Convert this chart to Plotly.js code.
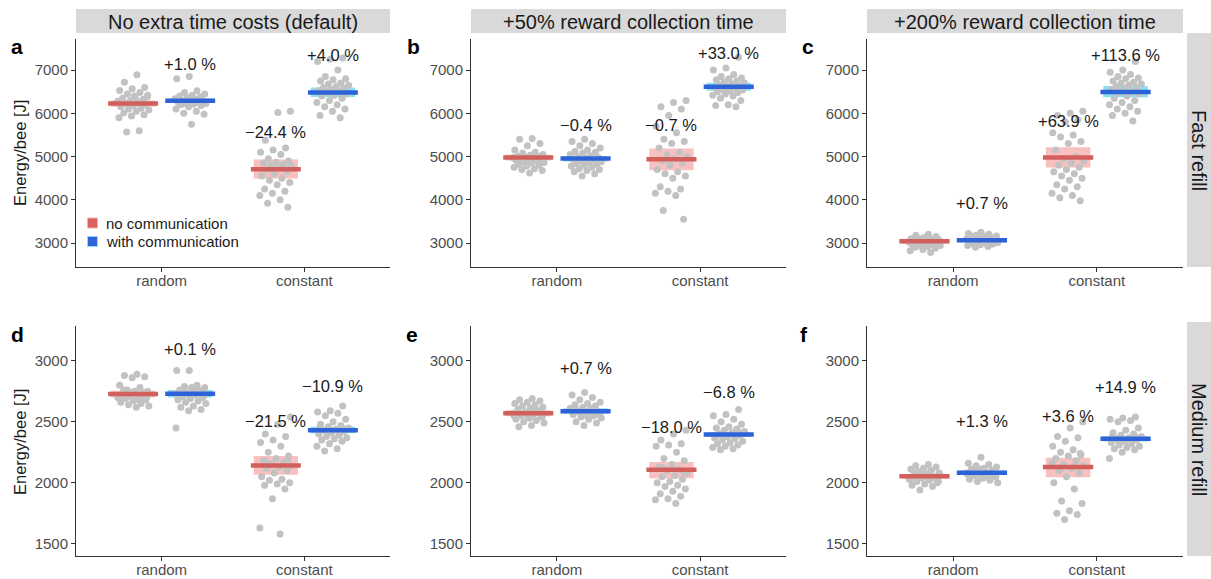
<!DOCTYPE html>
<html><head><meta charset="utf-8">
<script src="https://cdn.plot.ly/plotly-3.0.1.min.js"></script>
<style>html,body{margin:0;padding:0;background:#fff}#chart{width:1211px;height:579px}</style>
</head><body><div id="chart"></div>
<script>
// ---------------- data ----------------
const categories = ['random', 'constant'];
const groupNames = ['no communication', 'with communication'];
const columnTitles = ['No extra time costs (default)', '+50% reward collection time', '+200% reward collection time'];
const rowTitles = ['Fast refill', 'Medium refill'];
const panelLetters = ['a', 'b', 'c', 'd', 'e', 'f'];
const yTickVals = [[3000, 4000, 5000, 6000, 7000], [1500, 2000, 2500, 3000]];

// individual runs (Energy/bee [J])
const a_random_no = [6890,6720,6600,6570,6530,6480,6450,6420,6380,6350,6320,6300,6280,6260,6230,6200,6180,6150,6120,6100,6080,6050,6010,5970,5940,5900,5600,5570,6380,6400];
const a_random_with = [6850,6800,6520,6480,6450,6420,6400,6380,6360,6340,6320,6300,6290,6280,6260,6250,6240,6230,6210,6200,6180,6150,6100,6050,6000,5980,5750,6330,6270,6220];
const a_constant_no = [6050,6020,5380,5200,5150,5100,5050,4950,4900,4870,4850,4820,4800,4780,4750,4700,4650,4600,4550,4500,4450,4400,4350,4250,4200,4150,4100,4000,3920,3830];
const a_constant_with = [7280,7250,7200,7000,6850,6800,6780,6750,6700,6680,6650,6620,6600,6580,6550,6520,6500,6480,6450,6420,6400,6350,6300,6250,6200,6150,6100,6050,5950,5900];

const b_random_no = [5420,5400,5300,5250,5150,5100,5080,5050,5030,5010,5000,4990,4980,4970,4960,4950,4930,4920,4900,4880,4860,4850,4820,4800,4780,4750,4720,4700,4680,4620];
const b_random_with = [5400,5350,5300,5250,5200,5150,5120,5100,5080,5050,5020,5000,4980,4960,4940,4920,4900,4880,4860,4840,4820,4800,4780,4750,4720,4700,4680,4650,4600,4550];
const b_constant_no = [6300,6250,6150,6100,5950,5700,5550,5400,5350,5300,5200,5100,5050,5000,4950,4900,4850,4800,4700,4650,4600,4550,4500,4300,4250,4200,4150,4100,3750,3550];
const b_constant_with = [7300,7050,7000,6900,6850,6820,6800,6780,6750,6720,6700,6680,6660,6640,6620,6600,6580,6560,6540,6520,6500,6480,6450,6420,6400,6350,6300,6200,6180,6150];

const c_random_no = [3200,3180,3150,3120,3100,3090,3080,3070,3060,3050,3040,3030,3020,3010,3000,2990,2980,2970,2960,2950,2940,2920,2900,2880,2850,2820,2780,3110,3060,3130];
const c_random_with = [3250,3220,3200,3180,3160,3150,3140,3120,3100,3090,3080,3070,3060,3050,3040,3030,3020,3010,3000,2990,2980,2960,2940,2920,2900,3110,3130,3170,3050,3070];
const c_constant_no = [6050,6000,5950,5850,5800,5550,5500,5450,5350,5300,5150,5000,4950,4900,4850,4800,4750,4700,4650,4600,4550,4500,4450,4350,4300,4250,4150,4100,4050,3980];
const c_constant_with = [7200,7000,6950,6900,6850,6820,6800,6750,6720,6700,6680,6650,6620,6600,6580,6550,6500,6480,6450,6400,6350,6300,6250,6200,6150,6100,6050,6000,5950,5820];

const d_random_no = [2890,2880,2870,2860,2800,2780,2760,2750,2740,2730,2720,2710,2700,2700,2690,2680,2670,2660,2650,2640,2630,2620,2760,2740,2720,2700,2680,2730,2710,2750];
const d_random_with = [2920,2920,2800,2790,2780,2770,2760,2750,2740,2730,2720,2710,2700,2690,2680,2670,2660,2650,2630,2620,2600,2590,2450,2750,2740,2720,2780,2700,2760,2730];
const d_constant_no = [2540,2480,2400,2380,2350,2330,2300,2250,2220,2200,2180,2170,2150,2140,2130,2120,2100,2080,2050,2030,2020,2000,1990,1980,1950,1870,1630,1580,2160,2190];
const d_constant_with = [2630,2590,2580,2570,2550,2520,2500,2480,2470,2460,2450,2440,2430,2420,2410,2400,2390,2380,2370,2360,2350,2340,2320,2300,2280,2260,2440,2420,2450,2410];

const e_random_no = [2690,2680,2670,2660,2650,2640,2630,2620,2610,2600,2590,2580,2570,2560,2550,2540,2530,2520,2510,2500,2490,2470,2460,2580,2560,2550,2600,2570,2540,2530];
const e_random_with = [2740,2720,2700,2680,2660,2650,2640,2630,2620,2610,2600,2590,2580,2570,2560,2550,2540,2530,2520,2500,2490,2470,2600,2610,2580,2560,2550,2620,2590,2570];
const e_constant_no = [2430,2400,2350,2320,2310,2300,2250,2200,2180,2150,2130,2110,2100,2080,2060,2050,2030,2010,2000,1980,1970,1950,1930,1910,1890,1870,1860,1830,2120,2090];
const e_constant_with = [2600,2560,2550,2520,2500,2480,2460,2450,2440,2430,2420,2410,2400,2390,2380,2370,2360,2350,2340,2330,2320,2310,2300,2290,2280,2270,2410,2390,2380,2420];

const f_random_no = [2150,2140,2130,2120,2110,2100,2090,2080,2070,2060,2050,2040,2030,2020,2010,2000,1990,1980,1970,1940,2060,2050,2080,2040,2070,2030,2100,2060,2010,2050];
const f_random_with = [2210,2160,2150,2140,2130,2120,2110,2100,2090,2080,2070,2060,2050,2040,2030,2020,2010,2000,2090,2080,2100,2110,2070,2060,2120,2050,2040,2090,2080,2070];
const f_constant_no = [2500,2450,2380,2370,2340,2300,2270,2250,2230,2220,2200,2180,2150,2140,2120,2100,2080,2050,2000,1950,1850,1830,1770,1750,1740,1700,2160,2130,2110,2240];
const f_constant_with = [2540,2530,2520,2510,2500,2450,2430,2410,2400,2390,2380,2370,2360,2350,2340,2330,2320,2310,2300,2290,2280,2270,2250,2200,2360,2350,2370,2340,2380,2360];

// group order: [random-no, random-with, constant-no, constant-with]
const a_mean = [6228, 6290, 4707, 6483];
const a_ciLow = [6150, 6245, 4490, 6380];
const a_ciHigh = [6300, 6345, 4930, 6600];
const a_labels = ['', '+1.0 %', '\u221224.4 %', '+4.0 %'];

const b_mean = [4977, 4955, 4940, 6615];
const b_ciLow = [4910, 4885, 4683, 6525];
const b_ciHigh = [5040, 5010, 5185, 6710];
const b_labels = ['', '\u22120.4 %', '\u22120.7 %', '+33.0 %'];

const c_mean = [3040, 3062, 4978, 6495];
const c_ciLow = [2990, 3015, 4745, 6370];
const c_ciHigh = [3090, 3110, 5215, 6630];
const c_labels = ['', '+0.7 %', '+63.9 %', '+113.6 %'];

const d_mean = [2727, 2730, 2141, 2430];
const d_ciLow = [2700, 2700, 2065, 2405];
const d_ciHigh = [2755, 2760, 2220, 2460];
const d_labels = ['', '+0.1 %', '\u221221.5 %', '\u221210.9 %'];

const e_mean = [2569, 2587, 2106, 2395];
const e_ciLow = [2545, 2565, 2037, 2375];
const e_ciHigh = [2595, 2610, 2170, 2415];
const e_labels = ['', '+0.7 %', '\u221218.0 %', '\u22126.8 %'];

const f_mean = [2054, 2082, 2129, 2360];
const f_ciLow = [2035, 2065, 2045, 2338];
const f_ciHigh = [2072, 2100, 2206, 2382];
const f_labels = ['', '+1.3 %', '+3.6 %', '+14.9 %'];

// ---------------- build ----------------
const panels = [
  {pts: [a_random_no, a_random_with, a_constant_no, a_constant_with], mean: a_mean, lo: a_ciLow, hi: a_ciHigh, lab: a_labels},
  {pts: [b_random_no, b_random_with, b_constant_no, b_constant_with], mean: b_mean, lo: b_ciLow, hi: b_ciHigh, lab: b_labels},
  {pts: [c_random_no, c_random_with, c_constant_no, c_constant_with], mean: c_mean, lo: c_ciLow, hi: c_ciHigh, lab: c_labels},
  {pts: [d_random_no, d_random_with, d_constant_no, d_constant_with], mean: d_mean, lo: d_ciLow, hi: d_ciHigh, lab: d_labels},
  {pts: [e_random_no, e_random_with, e_constant_no, e_constant_with], mean: e_mean, lo: e_ciLow, hi: e_ciHigh, lab: e_labels},
  {pts: [f_random_no, f_random_with, f_constant_no, f_constant_with], mean: f_mean, lo: f_ciLow, hi: f_ciHigh, lab: f_labels}
];

const W = 1211, H = 579;
const px = v => v / W;
const py = v => 1 - v / H;
const FONT = 'Liberation Sans, Arial, Helvetica, sans-serif';
const lineCol = ['#d35f5d', '#2d63d8'];
const bandCol = ['rgba(244,150,146,0.6)', 'rgba(100,215,232,0.75)'];
const pointCol = '#c2c2c2';

const colPx = [[76, 390], [471, 786], [867, 1183]];
const rowPx = [[39, 267], [326, 556]];
const yRanges = [[2445, 7720], [1400, 3285]];
const labelShift = [37, 34, 37, 44.5, 43, 51.5];
const dodge = 0.2, lineHalf = 0.175, bandHalf = 0.155, jitterHalf = 0.115;
// horizontal jitter (display only): deterministic low-discrepancy spread in [-1, 1]
const jit = i => (((i + 1) * 0.6180339887) % 1) * 2 - 1;

const traces = [];
const shapes = [];
const annotations = [];
const layout = {
  width: W, height: H,
  margin: {l: 0, r: 0, t: 0, b: 0},
  paper_bgcolor: '#fff', plot_bgcolor: '#fff',
  showlegend: false, hovermode: false,
  font: {family: FONT, color: '#1a1a1a'}
};

panels.forEach((P, p) => {
  const row = Math.floor(p / 3), col = p % 3;
  const sfx = p === 0 ? '' : String(p + 1);
  const xa = 'x' + sfx, ya = 'y' + sfx;
  layout['xaxis' + sfx] = {
    domain: [px(colPx[col][0]), px(colPx[col][1])], anchor: ya,
    range: [0.4, 2.6], tickvals: [1, 2], ticktext: categories,
    showline: true, linecolor: '#333', linewidth: 1, mirror: false,
    ticks: 'outside', ticklen: 4, tickwidth: 1, tickcolor: '#333',
    ticklabelstandoff: -4,
    showgrid: false, zeroline: false, fixedrange: true,
    tickfont: {size: 15, color: '#4d4d4d', family: FONT}
  };
  layout['yaxis' + sfx] = {
    domain: [py(rowPx[row][1]), py(rowPx[row][0])], anchor: xa,
    range: yRanges[row], tickvals: yTickVals[row],
    showline: true, linecolor: '#333', linewidth: 1, mirror: false,
    ticks: 'outside', ticklen: 4, tickwidth: 1, tickcolor: '#333',
    showgrid: false, zeroline: false, fixedrange: true,
    tickfont: {size: 15, color: '#4d4d4d', family: FONT}
  };

  // points
  for (let g = 0; g < 2; g++) {
    const xs = [], ys = [];
    [0, 1].forEach(ci => {
      const c = ci + 1 + (g === 0 ? -dodge : dodge);
      P.pts[ci * 2 + g].forEach((v, i) => { xs.push(c + jitterHalf * jit(i + 7 * ci + 3 * g)); ys.push(v); });
    });
    traces.push({
      type: 'scatter', mode: 'markers', x: xs, y: ys, xaxis: xa, yaxis: ya, name: groupNames[g],
      marker: {color: pointCol, size: 7, opacity: 1, line: {width: 0}},
      hoverinfo: 'skip', showlegend: false
    });
  }

  // mean lines, CI bands and labels
  for (let g = 0; g < 2; g++) {
    const lx = [], ly = [];
    [0, 1].forEach(ci => {
      const k = ci * 2 + g;
      const c = ci + 1 + (g === 0 ? -dodge : dodge);
      lx.push(c - lineHalf, c + lineHalf, null);
      ly.push(P.mean[k], P.mean[k], null);
      shapes.push({
        type: 'rect', xref: xa, yref: ya, layer: 'below',
        x0: c - bandHalf, x1: c + bandHalf, y0: P.lo[k], y1: P.hi[k],
        fillcolor: bandCol[g], line: {width: 0}
      });
      if (P.lab[k]) {
        annotations.push({
          xref: xa, yref: ya, x: c, y: P.mean[k], yshift: labelShift[p],
          text: P.lab[k], showarrow: false, xanchor: 'center', yanchor: 'middle',
          font: {size: 16.5, color: '#1a1a1a', family: FONT}
        });
      }
    });
    traces.push({
      type: 'scatter', mode: 'lines', x: lx, y: ly, xaxis: xa, yaxis: ya,
      line: {color: lineCol[g], width: 4.5}, hoverinfo: 'skip', showlegend: false,
      connectgaps: false
    });
  }
});

// column strips
const letterPos = [[17, 47], [413, 47], [808, 47], [17, 334], [412, 334], [804, 334]];
colPx.forEach((c, i) => {
  shapes.push({type: 'rect', xref: 'paper', yref: 'paper', x0: px(c[0]), x1: px(c[1]),
    y0: py(33), y1: py(9), fillcolor: '#d9d9d9', line: {width: 0}});
  annotations.push({xref: 'paper', yref: 'paper', x: px((c[0] + c[1]) / 2), y: py(21.5),
    text: columnTitles[i], showarrow: false, xanchor: 'center', yanchor: 'middle',
    font: {size: 20, color: '#1a1a1a', family: FONT}});
});
// row strips
const rowStripPx = [[33, 267], [322, 556]];
rowStripPx.forEach((r, i) => {
  shapes.push({type: 'rect', xref: 'paper', yref: 'paper', x0: px(1187), x1: 1,
    y0: py(r[1]), y1: py(r[0]), fillcolor: '#d9d9d9', line: {width: 0}});
  annotations.push({xref: 'paper', yref: 'paper', x: px(1199), y: py((r[0] + r[1]) / 2),
    text: rowTitles[i], showarrow: false, textangle: 90, xanchor: 'center', yanchor: 'middle',
    font: {size: 20, color: '#1a1a1a', family: FONT}});
  // y axis titles
  annotations.push({xref: 'paper', yref: 'paper', x: px(20), y: py(i === 0 ? 153 : 442),
    text: 'Energy/bee [J]', showarrow: false, textangle: -90, xanchor: 'center', yanchor: 'middle',
    font: {size: 16.5, color: '#1a1a1a', family: FONT}});
});
// panel letters
panelLetters.forEach((L, i) => {
  annotations.push({xref: 'paper', yref: 'paper', x: px(letterPos[i][0]), y: py(letterPos[i][1]),
    text: '<b>' + L + '</b>', showarrow: false, xanchor: 'center', yanchor: 'middle',
    font: {size: 21, color: '#000', family: FONT}});
});
// legend (inside panel a)
const legKeyFill = ['#d9625f', '#2f64d8'];
const legKeyEdge = ['#f4b1ae', '#8fdcea'];
groupNames.forEach((n, i) => {
  const yc = 223 + i * 18.5;
  shapes.push({type: 'rect', xref: 'paper', yref: 'paper', x0: px(87.5), x1: px(97.5),
    y0: py(yc + 5), y1: py(yc - 5), fillcolor: legKeyFill[i], line: {color: legKeyEdge[i], width: 1}});
  annotations.push({xref: 'paper', yref: 'paper', x: px(104), y: py(yc), text: n,
    showarrow: false, xanchor: 'left', yanchor: 'middle',
    font: {size: 15, color: '#1a1a1a', family: FONT}});
});

layout.shapes = shapes;
layout.annotations = annotations;

Plotly.newPlot('chart', traces, layout, {staticPlot: true, displayModeBar: false});
</script></body></html>
